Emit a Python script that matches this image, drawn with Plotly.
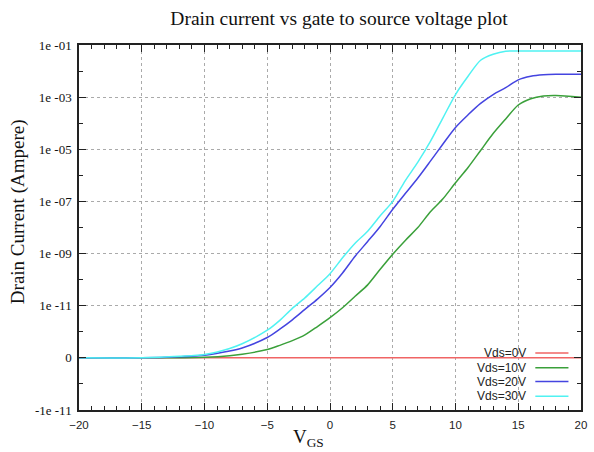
import math
import plotly.graph_objects as go

# Gate-to-source voltage (V)
vgs = [-20, -15, -12, -10, -8, -7, -5, -4, -3, -2, -1, 0, 1, 2, 3, 4, 5, 6, 7, 8, 9,
       10, 11, 12, 13, 14, 15, 16, 17, 18, 20]

# Drain currents (A)
id_vds0 = [0.0] * len(vgs)
id_vds10 = [0, 0, 3e-14, 1e-13, 4e-13, 7e-13, 1.6e-12, 2.4e-12, 3.3e-12, 4.4e-12, 6.0e-12,
            7.7e-12, 9.6e-12, 2.3e-11, 6.3e-11, 2.5e-10, 9.5e-10, 3.2e-9, 1.0e-8, 4.0e-8,
            1.26e-7, 5.2e-7, 2.0e-6, 9.0e-6, 4.0e-5, 1.45e-4, 5.0e-4, 8.7e-4, 1.1e-3,
            1.15e-3, 1.0e-3]
id_vds20 = [0, 0, 2e-13, 5e-13, 1.3e-12, 1.9e-12, 3.9e-12, 5.5e-12, 7.3e-12, 9.3e-12,
            1.8e-11, 5.0e-11, 1.8e-10, 7.9e-10, 2.9e-9, 1.1e-8, 5.0e-8, 2.0e-7, 7.9e-7,
            3.5e-6, 1.6e-5, 6.9e-5, 2.1e-4, 5.75e-4, 1.26e-3, 2.3e-3, 4.6e-3, 6.3e-3,
            7.2e-3, 7.5e-3, 7.6e-3]
id_vds30 = [0, 0, 3e-13, 6.5e-13, 1.8e-12, 2.7e-12, 5.3e-12, 7.2e-12, 9.5e-12, 2.0e-11,
            5.8e-11, 1.7e-10, 6.9e-10, 2.5e-9, 7.2e-9, 2.8e-8, 1.0e-7, 6.3e-7, 3.2e-6,
            2.0e-5, 1.6e-4, 1.26e-3, 6.3e-3, 2.6e-2, 4.4e-2, 5.75e-2, 5.9e-2, 5.9e-2,
            5.9e-2, 5.9e-2, 5.9e-2]

series_names = ["Vds=0V", "Vds=10V", "Vds=20V", "Vds=30V"]
series_colors = ["#f06464", "#3aa03a", "#4444e0", "#50f2f2"]

y_tick_values = [-1e-11, 0, 1e-11, 1e-9, 1e-7, 1e-5, 1e-3, 1e-1]
y_tick_labels = ["-1e -11", "0", "1e -11", "1e -09", "1e -07", "1e -05", "1e -03", "1e -01"]
x_tick_values = [-20, -15, -10, -5, 0, 5, 10, 15, 20]

LIN = 1e-11


def to_axis(i):
    """Symmetric-log transform: linear within +/-1e-11, 2 decades per unit beyond."""
    a = abs(i)
    if a <= LIN:
        return i / LIN
    s = 1 if i > 0 else -1
    return s * (1 + (math.log10(a) + 11) / 2)


fig = go.Figure()
for name, data, color in zip(series_names, [id_vds0, id_vds10, id_vds20, id_vds30], series_colors):
    fig.add_trace(go.Scatter(x=vgs, y=[to_axis(v) for v in data], mode="lines", name=name,
                             line=dict(color=color, width=1.5, shape="spline", smoothing=0.8),
                             showlegend=False))

serif = "Liberation Serif, Times New Roman, serif"
sans = "Liberation Sans, Arial, sans-serif"

fig.update_layout(
    width=594, height=452,
    margin=dict(l=79, r=7, t=45, b=42),
    paper_bgcolor="white", plot_bgcolor="white",
    title=dict(text="Drain current vs gate to source voltage plot", x=0.518, xref="paper",
               y=1 - 18 / 452, yref="container", yanchor="middle", xanchor="center",
               font=dict(family=serif, size=19.5, color="#111")),
    xaxis=dict(range=[-20, 20], tickvals=x_tick_values, ticks="inside", ticklen=7,
               tickcolor="#222", showline=True, linecolor="#222", linewidth=1.5,
               mirror="allticks", showgrid=True, gridcolor="#aaaaaa", griddash="dot",
               gridwidth=1, zeroline=False, tickfont=dict(family=sans, size=11.5, color="#222"),
               ticklabelstandoff=3,
               minor=dict(dtick=1, ticks="inside", ticklen=4, tickcolor="#222", showgrid=False)),
    yaxis=dict(range=[-1, 6], tickvals=[to_axis(v) for v in y_tick_values],
               ticktext=y_tick_labels, ticks="inside", ticklen=7, tickcolor="#222",
               showline=True, linecolor="#222", linewidth=1.5, mirror="allticks",
               showgrid=True, gridcolor="#aaaaaa", griddash="dot", gridwidth=1,
               zeroline=False, tickfont=dict(family=serif, size=13, color="#111"),
               ticklabelstandoff=3,
               minor=dict(dtick=0.5, ticks="inside", ticklen=4, tickcolor="#222", showgrid=False)),
)

# axis titles
fig.add_annotation(text="Drain Current (Ampere)", xref="paper", yref="paper", x=0, xshift=-61,
                   y=0.542, textangle=-90, showarrow=False, xanchor="center", yanchor="middle",
                   font=dict(family=serif, size=19, color="#111"))
fig.add_annotation(text="V<sub>GS</sub>", xref="paper", yref="paper", x=0.457, y=-0.077,
                   showarrow=False, xanchor="center", yanchor="middle",
                   font=dict(family=serif, size=19, color="#111"))

# gnuplot-style key: text right-aligned, then line sample
legend_rows_y = [0.156, 0.116, 0.078, 0.038]
for name, color, yy in zip(series_names, series_colors, legend_rows_y):
    fig.add_annotation(text=name, xref="paper", yref="paper", x=0.894, y=yy, showarrow=False,
                       xanchor="right", yanchor="middle", font=dict(family=sans, size=12, color="#222"))
    fig.add_shape(type="line", xref="paper", yref="paper", x0=0.909, x1=0.975, y0=yy, y1=yy,
                  line=dict(color=color, width=1.5))

fig.write_html("out.html", config={"displayModeBar": False},
               post_script="document.body.style.margin='0px';document.body.style.overflow='hidden';")
